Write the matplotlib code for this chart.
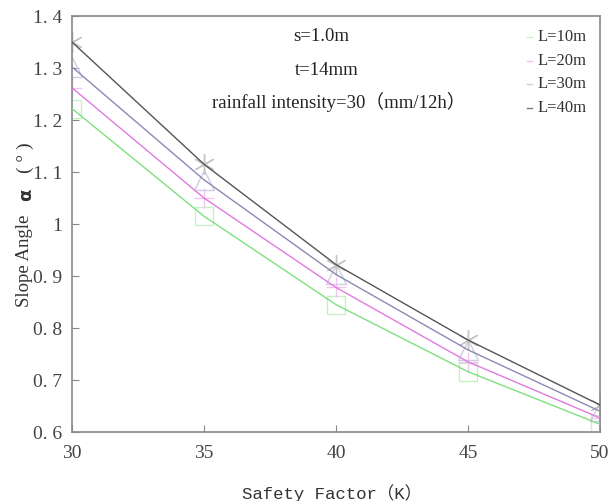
import matplotlib.pyplot as plt

# datos
safety_factor = [30, 35, 40, 45, 50]
angle_L10 = [1.222, 1.015, 0.845, 0.716, 0.615]
angle_L20 = [1.262, 1.050, 0.878, 0.735, 0.627]
angle_L30 = [1.302, 1.085, 0.903, 0.758, 0.640]
angle_L40 = [1.350, 1.115, 0.922, 0.777, 0.652]
etiquetas = ['L=10m', 'L=20m', 'L=30m', 'L=40m']

yticks = [0.6, 0.7, 0.8, 0.9, 1.0, 1.1, 1.2, 1.3, 1.4]
ytick_labels = ['0. 6', '0. 7', '0. 8', '0. 9', '1', '1. 1', '1. 2', '1. 3', '1. 4']
xticks = [30, 35, 40, 45, 50]

fig = plt.figure(figsize=(6.08, 5.01), dpi=100)
ax = fig.add_axes([0.1184, 0.1377, 0.8684, 0.8303])

series = [angle_L10, angle_L20, angle_L30, angle_L40]
colores = ['#7fe07f', '#e07ae0', '#8a8ab4', '#555555']
marcadores_col = ['#c8f0c8', '#f2c2f2', '#cfcfe4', '#c4c4c4']
marcadores = ['s', '+', '^', (6, 2, 0)]
tamanos = [13, 14, 15, 15]

for vals, c, mc, m, t in zip(series, colores, marcadores_col, marcadores, tamanos):
    ax.plot(safety_factor, vals, color=c, lw=1.0, zorder=3)
    ax.plot(safety_factor, vals, ls='none', marker=m, ms=t,
            markerfacecolor='none', markeredgecolor=mc, mew=1.0, zorder=2)

# leyenda manual con guiones cortos
for i, (lab, mc) in enumerate(zip(etiquetas, marcadores_col)):
    yy = 0.95 - i * 0.057
    ax.plot([0.862, 0.871], [yy, yy], color=mc if i < 3 else '#777777',
            lw=1.0, transform=ax.transAxes)
    ax.text(0.882, yy, lab, transform=ax.transAxes, va='center', ha='left',
            fontsize=12, family='Liberation Serif', color='#333333')

ax.text(0.472, 0.95, 's=1.0m', transform=ax.transAxes, ha='center', va='center',
        fontsize=13.5, family='Liberation Serif', color='#222222')
ax.text(0.483, 0.87, 't=14mm', transform=ax.transAxes, ha='center', va='center',
        fontsize=13.5, family='Liberation Serif', color='#222222')
ax.text(0.506, 0.793, 'rainfall intensity=30（mm/12h）', transform=ax.transAxes,
        ha='center', va='center', fontsize=13.5,
        family=['Liberation Serif', 'Noto Sans CJK SC'], color='#222222')

ax.set_xlim(30, 50)
ax.set_ylim(0.6, 1.4)
ax.set_xticks(xticks)
ax.set_yticks(yticks)
ax.set_yticklabels(ytick_labels)
ax.tick_params(direction='in', length=5, color='#888888', labelcolor='#444444',
               labelsize=14)
ax.tick_params(axis='x', pad=9)
ax.tick_params(axis='y', pad=7)
for lab in ax.get_xticklabels() + ax.get_yticklabels():
    lab.set_family('Liberation Serif')

for sp in ax.spines.values():
    sp.set_color('#888888')
    sp.set_linewidth(1.2)

fam = ['Liberation Mono', 'Noto Sans CJK SC']
fig.text(0.546, 0.016, 'Safety Factor（K）', ha='center', va='center',
         fontsize=12.5, family=fam, color='#333333')

# etiqueta y en tres trozos para poner alfa en negrita
fig.text(0.041, 0.479, 'Slope Angle', rotation=90, ha='center', va='center',
         fontsize=13.5, family='Liberation Serif', color='#333333')
fig.text(0.043, 0.611, 'α', rotation=90, ha='center', va='center',
         fontsize=13, family='DejaVu Sans', weight='bold', color='#333333')
fig.text(0.041, 0.685, '( ° )', rotation=90, ha='center', va='center',
         fontsize=14, family='Liberation Serif', color='#333333')

plt.savefig('out.png', dpi=100)
